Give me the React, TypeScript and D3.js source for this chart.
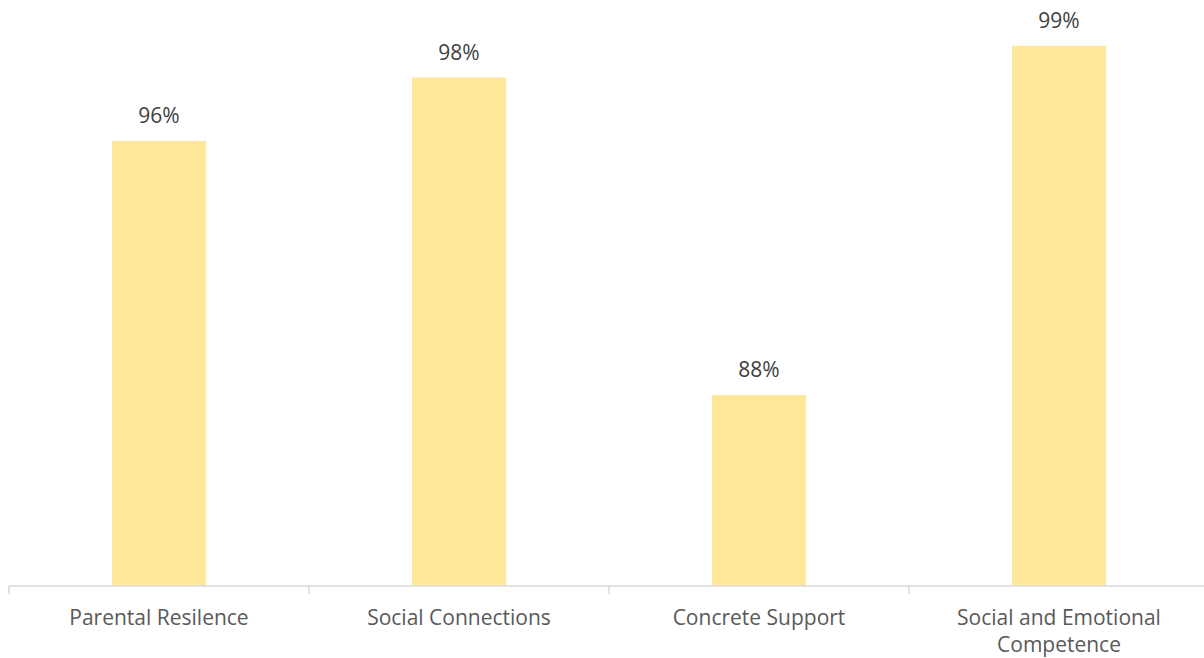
import React, { useEffect, useRef } from 'react';
import * as d3 from 'd3';

const categories = ['Parental Resilence', 'Social Connections', 'Concrete Support', 'Social and Emotional Competence'];
const values = [96, 98, 88, 99];
const yDomain = [82, 100];

const width = 1204;
const height = 658;

export default function App() {
  const svgRef = useRef<SVGSVGElement>(null);

  useEffect(() => {
    if (!svgRef.current) return;
    const svg = d3.select(svgRef.current);
    svg.selectAll('*').remove();

    const x = d3.scaleBand<string>()
      .domain(categories)
      .range([9, 1209])
      .paddingInner(0.6867)
      .paddingOuter(0.34335);

    const y = d3.scaleLinear().domain(yDomain).range([585.5, 14]);

    const step = x.step();
    const font = '"Open Sans", "DejaVu Sans", sans-serif';

    // bars
    svg.append('g')
      .selectAll('rect')
      .data(categories)
      .enter()
      .append('rect')
      .attr('x', d => x(d)!)
      .attr('width', x.bandwidth())
      .attr('y', (d, i) => y(values[i]))
      .attr('height', (d, i) => y(yDomain[0]) - y(values[i]))
      .attr('fill', '#FFE699');

    // value labels
    svg.append('g')
      .selectAll('text')
      .data(categories)
      .enter()
      .append('text')
      .attr('x', d => x(d)! + x.bandwidth() / 2)
      .attr('y', (d, i) => y(values[i]) - 18)
      .attr('text-anchor', 'middle')
      .attr('font-family', font)
      .attr('font-size', 21)
      .attr('fill', '#404040')
      .text((d, i) => `${values[i]}%`);

    // axis
    const axis = svg.append('g');
    axis.append('line')
      .attr('x1', 9).attr('x2', 1209)
      .attr('y1', 586).attr('y2', 586)
      .attr('stroke', '#D9D9D9')
      .attr('stroke-width', 1.5);

    const bounds = categories.map(c => x(c)! - (step - x.bandwidth()) / 2);
    bounds.push(bounds[bounds.length - 1] + step);
    axis.selectAll('line.tick')
      .data(bounds)
      .enter()
      .append('line')
      .attr('class', 'tick')
      .attr('x1', d => d).attr('x2', d => d)
      .attr('y1', 586).attr('y2', 594)
      .attr('stroke', '#D9D9D9')
      .attr('stroke-width', 1.5);

    // category labels, wrapped
    const labels = axis.selectAll('text.cat')
      .data(categories)
      .enter()
      .append('text')
      .attr('class', 'cat')
      .attr('text-anchor', 'middle')
      .attr('font-family', font)
      .attr('font-size', 21)
      .attr('fill', '#595959');

    labels.each(function (d) {
      const t = d3.select(this);
      const cx = x(d)! + x.bandwidth() / 2;
      const words = d.split(' ');
      const lines: string[] = [];
      let line: string[] = [];
      const tmp = t.append('tspan');
      for (const w of words) {
        const test = [...line, w].join(' ');
        tmp.text(test);
        if ((tmp.node() as SVGTSpanElement).getComputedTextLength() > 270 && line.length) {
          lines.push(line.join(' '));
          line = [w];
        } else {
          line.push(w);
        }
      }
      lines.push(line.join(' '));
      tmp.remove();
      lines.forEach((l, i) => {
        t.append('tspan')
          .attr('x', cx)
          .attr('y', 625 + i * 27)
          .text(l);
      });
    });
  }, []);

  return (
    <svg
      ref={svgRef}
      width={width}
      height={height}
      style={{ position: 'absolute', left: 0, top: 0, background: '#fff' }}
    />
  );
}
